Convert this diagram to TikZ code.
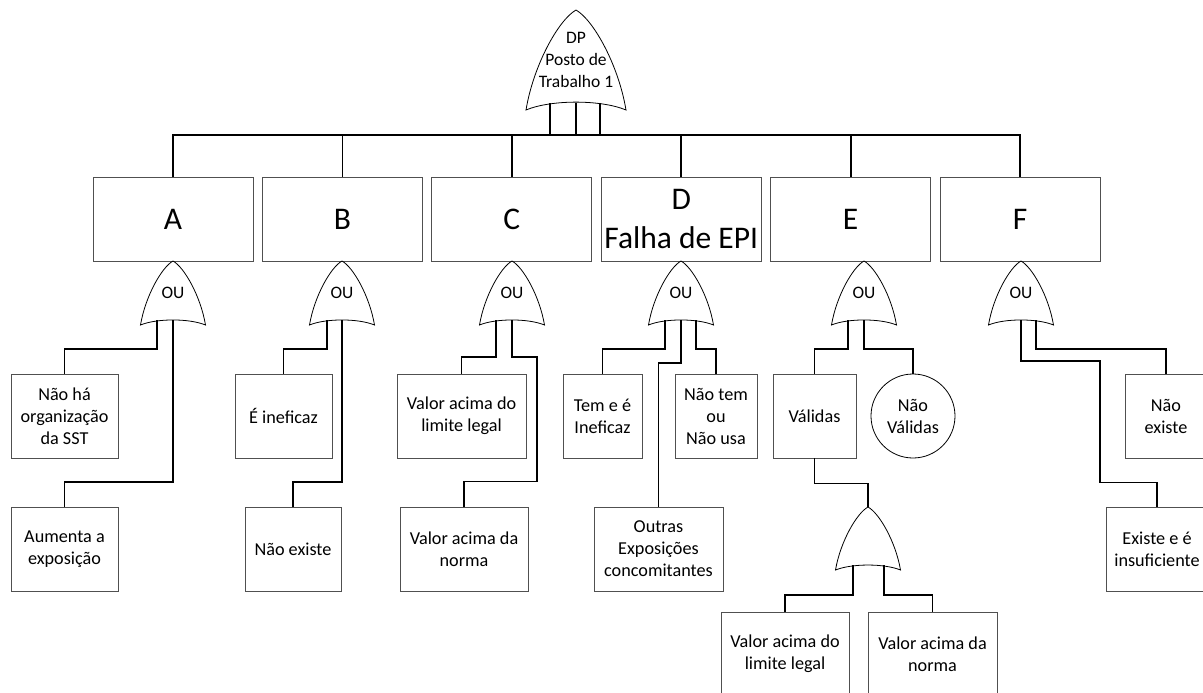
\documentclass[tikz,border=0pt]{standalone}
\usepackage{fontspec}
\setmainfont{Carlito}
\usetikzlibrary{positioning}
\definecolor{boxgray}{RGB}{80,80,80}
\tikzset{
  box/.style={draw=boxgray, line width=0.9pt, rectangle, minimum height=84pt, inner sep=1pt, align=center, font=\fontsize{18.2}{22}\selectfont},
  bigbox/.style={box, minimum width=160pt, font=\fontsize{31.5}{39}\selectfont},
  event/.style={draw, circle, line width=0.8pt, minimum size=84pt, inner sep=0pt, align=center, font=\fontsize{18.2}{22}\selectfont},
  wire/.style={line width=1.8pt},
  gateline/.style={line width=0.8pt},
  gatetext/.style={inner sep=0pt, align=center, font=\fontsize{17.5}{22}\selectfont},
}
% OR gate: name, centre x, apex y, half width, height, text
\newcommand{\orgate}[6]{%
  \begin{scope}[shift={(#2,#3)}, x=#4pt, y=-#5pt]
    \draw[gateline] (-1,1) .. controls (-0.85,0.55) and (-0.35,0.1) .. (0,0)
      .. controls (0.35,0.1) and (0.85,0.55) .. (1,1)
      .. controls (0.5,0.895) and (-0.5,0.895) .. cycle;
    \node[gatetext, minimum width=2*#4pt, minimum height=#5pt] (#1) at (0,0.5) {#6};
  \end{scope}}

\begin{document}
\begin{tikzpicture}[x=1pt,y=-1pt]
\useasboundingbox (0,0) rectangle (1203,693);

% top event
\orgate{top}{576}{10}{50}{100}{DP\\Posto de\\Trabalho 1}

% intermediate events
\node[bigbox] (boxA) at (173,219) {A};
\node[bigbox, right=8.5pt of boxA] (boxB) {B};
\node[bigbox, right=8.5pt of boxB] (boxC) {C};
\node[bigbox, right=8.5pt of boxC] (boxD) {D\\Falha de EPI};
\node[bigbox, right=8.5pt of boxD] (boxE) {E};
\node[bigbox, right=8.5pt of boxE] (boxF) {F};

\foreach \g/\x in {orA/173,orB/342,orC/512,orD/681,orE/864,orF/1021}
  \orgate{\g}{\x}{261}{32.5}{64}{OU};
\orgate{orE2}{868}{507}{32.5}{63}{}

% basic events
\node[box, minimum width=107pt] (semSST) at (64.5,416) {Não há\\organização\\da SST};
\node[box, minimum width=107pt] (aumenta) at (64.5,549) {Aumenta a\\exposição};
\node[box, minimum width=97pt] (ineficaz) at (283.5,416) {É ineficaz};
\node[box, minimum width=96pt] (naoexiste) at (293,549) {Não existe};
\node[box, minimum width=129pt] (limite) at (461.5,416) {Valor acima do\\limite legal};
\node[box, minimum width=128pt] (norma) at (464,549) {Valor acima da\\norma};
\node[box, minimum width=79pt] (temineficaz) at (602.5,416) {Tem e é\\Ineficaz};
\node[box, minimum width=82pt] (naousa) at (716,416) {Não tem\\ou\\Não usa};
\node[box, minimum width=129pt] (outras) at (658.5,549) {Outras\\Exposições\\concomitantes};
\node[box, minimum width=83pt] (validas) at (814.5,416) {Válidas};
\node[event] (naovalidas) at (913,416) {Não\\Válidas};
\node[box, minimum width=82pt] (naoexisteF) at (1166,416) {Não\\existe};
\node[box, minimum width=102pt] (insuficiente) at (1157,549) {Existe e é\\insuficiente};
\node[box, minimum width=128pt] (limiteE) at (785,654) {Valor acima do\\limite legal};
\node[box, minimum width=129pt] (normaE) at (932.5,654) {Valor acima da\\norma};

% top bus
\coordinate (bus) at (576,135);
\draw[wire] (boxA.north) |- (bus) -| (boxF.north);
\foreach \b in {boxB,boxC,boxD,boxE}
  \draw[wire] (\b.north) -- (\b.north |- bus);
\foreach \dx in {-26,0,24}
  \draw[wire] (top.south) ++(\dx,-7) -- ++(0,32);

% A
\draw[wire] (orA.south) ++(-16,-5) -- ++(0,29) -| (semSST.north);
\draw[wire] (orA.south) ++(0,-5) -- ++(0,162) -| (aumenta.north);
% B
\draw[wire] (orB.south) ++(-15,-5) -- ++(0,29) -| (ineficaz.north);
\draw[wire] (orB.south) ++(0,-5) -- ++(0,162) -| (naoexiste.north);
% C
\draw[wire] (orC.south) ++(-16,-5) -- ++(0,37) -| (limite.north);
\draw[wire] (orC.south) ++(0,-5) -- ++(0,37) -- ++(25,0) |- ([yshift=25pt]norma.north) -- (norma.north);
% D
\draw[wire] (orD.south) ++(-16,-5) -- ++(0,29) -| (temineficaz.north);
\draw[wire] (orD.south) ++(0,-5) -- ++(0,43) -| (outras.north);
\draw[wire] (orD.south) ++(15,-5) -- ++(0,29) -| (naousa.north);
% E
\draw[wire] (orE.south) ++(-16,-5) -- ++(0,29) -| (validas.north);
\draw[wire] (orE.south) ++(0,-5) -- ++(0,29) -| (naovalidas.north);
\draw[wire] (validas.south) -- ++(0,25) -| (orE2.north);
\draw[wire] (orE2.south) ++(-15,-5) -- ++(0,30) -| (limiteE.north);
\draw[wire] (orE2.south) ++(16,-5) -- ++(0,30) -| (normaE.north);
% F
\draw[wire] (orF.south) ++(0,-5) -- ++(0,41) -- ++(79,0) |- ([yshift=24pt]insuficiente.north) -- (insuficiente.north);
\draw[wire] (orF.south) ++(15,-5) -- ++(0,29) -| (naoexisteF.north);
\end{tikzpicture}
\end{document}
